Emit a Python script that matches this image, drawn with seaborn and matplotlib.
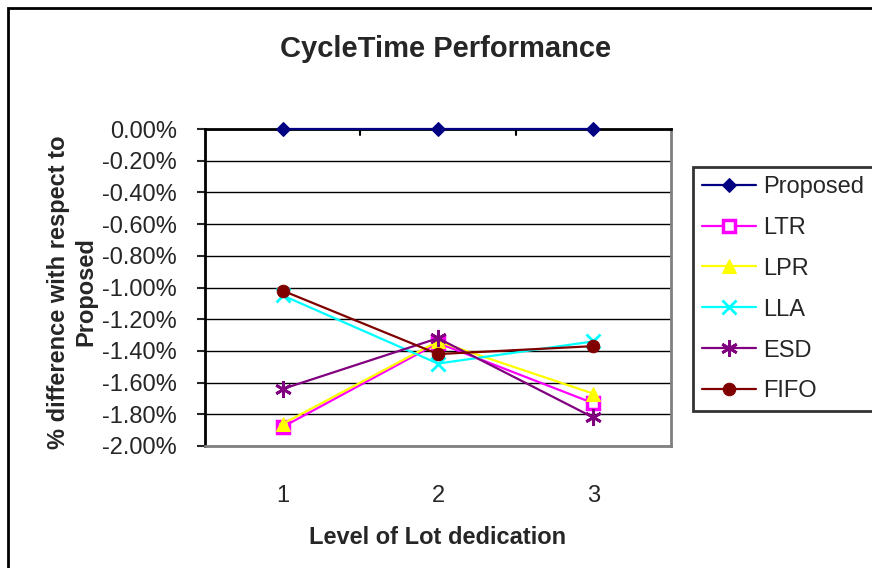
import matplotlib
matplotlib.use("Agg")
import matplotlib.pyplot as plt
from matplotlib.ticker import PercentFormatter, FixedLocator
from matplotlib.patches import Rectangle
import seaborn as sns

# Level of lot dedication (categories) and % difference vs. Proposed
levels = [1, 2, 3]
proposed = [0.0, 0.0, 0.0]
ltr = [-1.88, -1.35, -1.73]
lpr = [-1.86, -1.34, -1.67]
lla = [-1.05, -1.48, -1.34]
esd = [-1.64, -1.32, -1.82]
fifo = [-1.02, -1.42, -1.37]

series_names = ["Proposed", "LTR", "LPR", "LLA", "ESD", "FIFO"]
series_values = [proposed, ltr, lpr, lla, esd, fifo]
y_ticks = [0.0, -0.2, -0.4, -0.6, -0.8, -1.0, -1.2, -1.4, -1.6, -1.8, -2.0]

sns.set_style("white")
plt.rcParams["font.family"] = ["Liberation Sans", "DejaVu Sans"]
plt.rcParams["axes.unicode_minus"] = False

styles = {
    "Proposed": dict(color="#000080", marker="D", markersize=7,
                     markerfacecolor="#000080", markeredgecolor="#000080"),
    "LTR": dict(color="#FF00FF", marker="s", markersize=8,
                markerfacecolor="white", markeredgecolor="#FF00FF", markeredgewidth=2.5),
    "LPR": dict(color="#FFFF00", marker="^", markersize=10,
                markerfacecolor="#FFFF00", markeredgecolor="#FFFF00"),
    "LLA": dict(color="#00FFFF", marker="x", markersize=10, markeredgewidth=2,
                markeredgecolor="#00FFFF"),
    "ESD": dict(color="#800080", marker=(6, 2, 0), markersize=12, markeredgewidth=2,
                markeredgecolor="#800080"),
    "FIFO": dict(color="#800000", marker="o", markersize=9,
                 markerfacecolor="#800000", markeredgecolor="#800000"),
}

fig = plt.figure(figsize=(8.72, 5.68), dpi=100)
ax = fig.add_axes([205 / 872, 1 - 446 / 568, (671 - 205) / 872, (446 - 129) / 568])

for name, vals in zip(series_names, series_values):
    sns.lineplot(x=levels, y=[v / 100 for v in vals], ax=ax, label=name,
                 linewidth=1.6, clip_on=False, zorder=4, **styles[name])

ax.set_xlim(0.5, 3.5)
ax.set_ylim(-0.02, 0.0)
ax.yaxis.set_major_locator(FixedLocator([t / 100 for t in y_ticks]))
ax.yaxis.set_major_formatter(PercentFormatter(xmax=1, decimals=2))
ax.grid(axis="y", color="black", linewidth=1.0)
ax.set_axisbelow(True)

# category labels along the bottom, category dividers on the zero line
ax.set_xticks(levels)
ax.set_xticklabels([str(v) for v in levels])
ax.tick_params(axis="x", length=0, pad=28, labelsize=17)
ax.tick_params(axis="y", direction="out", length=6, width=1.5, pad=14,
               labelsize=17, left=True)
for xb in (1.5, 2.5):
    ax.plot([xb, xb], [0, -0.0004], color="black", linewidth=1.5,
            clip_on=False, zorder=3)

for side in ("left", "top"):
    ax.spines[side].set_color("black")
    ax.spines[side].set_linewidth(2)
for side in ("right", "bottom"):
    ax.spines[side].set_color("#808080")
    ax.spines[side].set_linewidth(2)

ax.set_xlabel("Level of Lot dedication", fontsize=17, fontweight="bold", labelpad=14)
ax.set_ylabel("")
fig.text(72 / 872, 1 - 292 / 568, "% difference with respect to\nProposed",
         rotation=90, ha="center", va="center", fontsize=17,
         fontweight="bold", linespacing=1.25)

fig.text(446 / 872, 1 - 49 / 568, "CycleTime Performance", ha="center",
         va="center", fontsize=21, fontweight="bold")

leg = ax.legend(loc="upper left", bbox_to_anchor=(693 / 872, 1 - 167 / 568),
                bbox_transform=fig.transFigure, frameon=True, fancybox=False,
                fontsize=17, handlelength=2.3, handletextpad=0.3,
                labelspacing=0.8, borderpad=0.38, borderaxespad=0)
leg.get_frame().set_edgecolor("black")
leg.get_frame().set_linewidth(2)

# chart frame
fig.patches.append(Rectangle((8 / 872, -0.2), 1.2, 1.2 - 8 / 568,
                             transform=fig.transFigure, fill=False,
                             edgecolor="black", linewidth=2))

fig.savefig("out.png", dpi=100)
